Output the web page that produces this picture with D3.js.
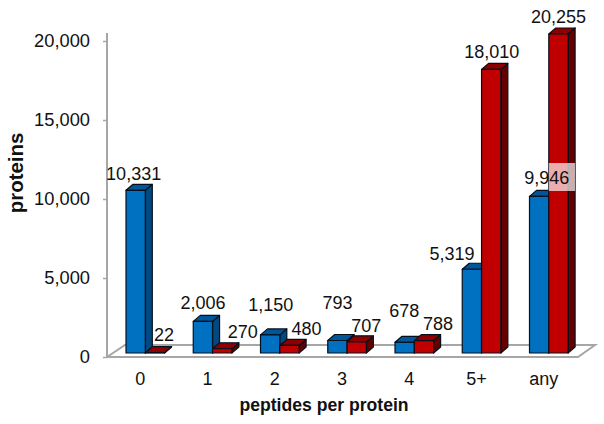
<!DOCTYPE html>
<html><head><meta charset="utf-8">
<script src="https://cdn.jsdelivr.net/npm/d3@7"></script>
<style>html,body{margin:0;padding:0;background:#fff}svg{display:block}text{font-family:"Liberation Sans",Arial,sans-serif;fill:#111}</style>
</head><body><div id="c"></div>
<script>
const categories = ["0","1","2","3","4","5+","any"];
const blueValues = [10331,2006,1150,793,678,5319,9946];
const redValues = [22,270,480,707,788,18010,20255];
const yTicks = [0,5000,10000,15000,20000];
const blueLabelOffsets = [[-2,-4],[0,-6],[0.5,-18],[0,-25.5],[-0.5,-19],[-20,-3],[7.5,-6]];
const redLabelOffsets = [[9,-6],[20.5,-5],[17,-4],[9.5,-4],[14,-4.5],[0.5,-5.4],[0,-5.3]];

const W=604,H=424,depthX=7,depthY=6;
const svg=d3.select("#c").append("svg").attr("width",W).attr("height",H);
const y=d3.scaleLinear().domain([0,20000]).range([353,38]);
const yAxisScale=d3.scaleLinear().domain([0,20000]).range([357,41]);
const x=d3.scaleBand().domain(categories).range([126,568.1]).paddingInner(0.426).paddingOuter(0);
const barW=x.bandwidth()/2;
const grey="#a6a6a6";

svg.append("path").attr("fill","none").attr("stroke",grey).attr("stroke-width",2)
  .attr("d","M107,33V357H578L595,345H125L107,357");
const gy=svg.append("g").attr("transform","translate(107,0)")
  .call(d3.axisLeft(yAxisScale).tickValues(yTicks).tickSize(4).tickPadding(13).tickFormat(d3.format(",")));
gy.select(".domain").remove();
gy.selectAll("line").attr("stroke",grey).attr("stroke-width",1.5);
gy.selectAll("text").attr("font-size",18.3).attr("fill","#111");

function bar(g,x0,v,front,side,top){
  const yt=y(v),yb=y(0),s=g.append("g").attr("stroke","#05101c").attr("stroke-width",1.2).attr("stroke-linejoin","round");
  s.append("path").attr("fill",side).attr("d",d3.line()([[x0+barW,yt],[x0+barW+depthX,yt-depthY],[x0+barW+depthX,yb-depthY],[x0+barW,yb]])+"Z");
  s.append("path").attr("fill",top).attr("d",d3.line()([[x0,yt],[x0+depthX,yt-depthY],[x0+barW+depthX,yt-depthY],[x0+barW,yt]])+"Z");
  s.append("rect").attr("x",x0).attr("y",yt).attr("width",barW).attr("height",yb-yt).attr("fill",front);
}
const bars=svg.append("g");
categories.forEach((c,i)=>{
  bar(bars,x(c),blueValues[i],"#0070c0","#004a80","#00569a");
  bar(bars,x(c)+barW,redValues[i],"#c00000","#640000","#8c0000");
});
svg.append("g").selectAll("text").data(categories).join("text")
  .attr("x",d=>x(d)+barW-5).attr("y",385).attr("text-anchor","middle").attr("font-size",18).text(d=>d);
const f=d3.format(",");
const lastX=x("any")+barW;
svg.append("rect").attr("x",lastX).attr("y",163).attr("width",barW+depthX).attr("height",28).attr("fill","#fff").attr("opacity",0.68);
const labels=svg.append("g").attr("font-size",18).attr("text-anchor","middle");
categories.forEach((c,i)=>{
  labels.append("text").attr("x",x(c)+barW/2+blueLabelOffsets[i][0]).attr("y",y(blueValues[i])+blueLabelOffsets[i][1]-depthY).text(f(blueValues[i]));
  labels.append("text").attr("x",x(c)+barW*1.5+redLabelOffsets[i][0]).attr("y",y(redValues[i])+redLabelOffsets[i][1]-depthY).text(f(redValues[i]));
});
svg.append("text").attr("transform","translate(23,173) rotate(-90)").attr("text-anchor","middle").attr("font-size",20.4).attr("font-weight","bold").text("proteins");
svg.append("text").attr("x",324).attr("y",411).attr("text-anchor","middle").attr("font-size",17.6).attr("font-weight","bold").text("peptides per protein");
</script></body></html>
